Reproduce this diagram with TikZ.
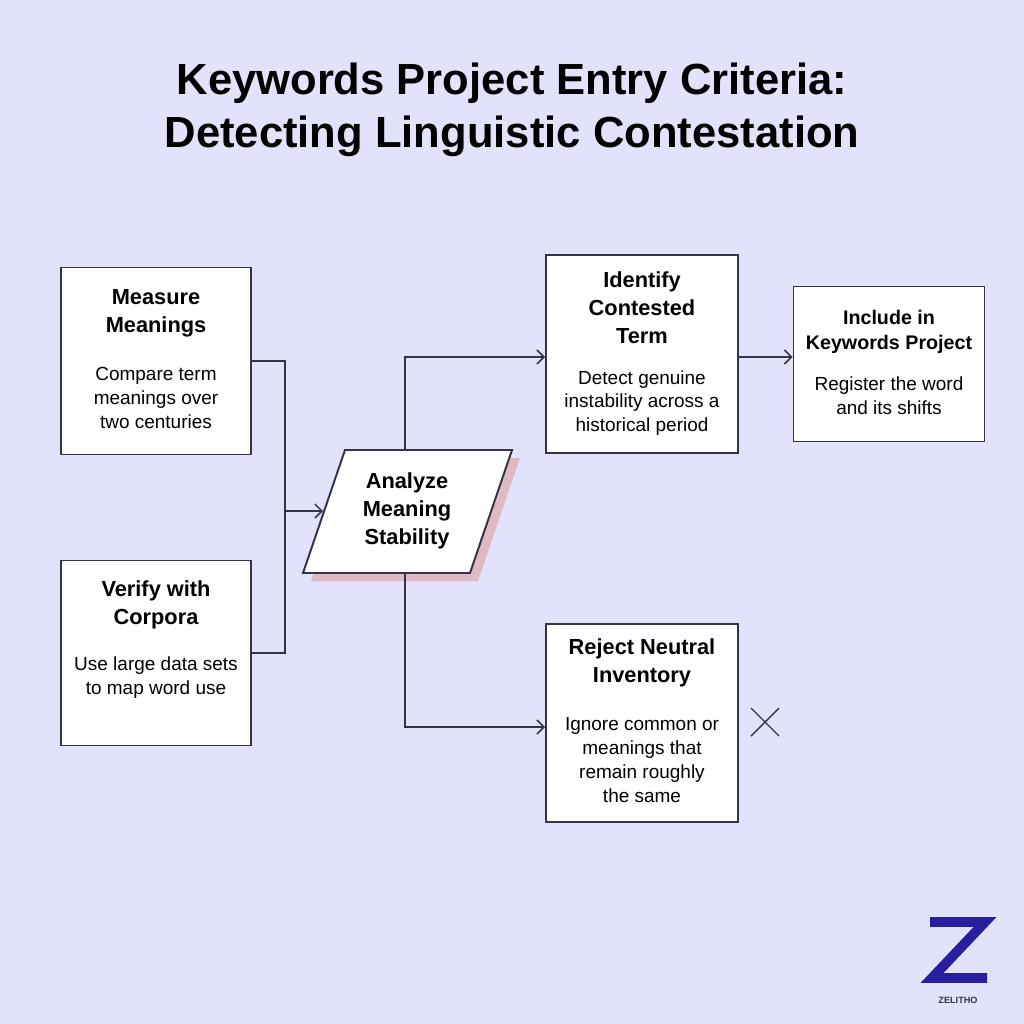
\documentclass[tikz,border=0pt]{standalone}
\usepackage{fontspec}
\setmainfont{Liberation Sans}
\usetikzlibrary{arrows.meta,positioning,calc}
\definecolor{bgcol}{RGB}{226,226,250}
\definecolor{boxline}{RGB}{52,52,72}
\definecolor{shadowcol}{RGB}{222,186,196}
\definecolor{logoblue}{RGB}{40,30,160}
\tikzset{
  stagebox/.style={draw=boxline, line width=2.8pt, fill=white, inner sep=0pt},
  stghead/.style={align=center, font=\fontsize{31}{40}\selectfont\bfseries},
  stgbody/.style={align=center, font=\fontsize{27}{34}\selectfont},
  line/.style={draw=boxline, line width=2.2pt, -{Straight Barb[length=10pt,width=20pt]}},
  plain/.style={draw=boxline, line width=2.2pt}
}
\begin{document}
\begin{tikzpicture}[x=0.05cm, y=-0.05cm]
  \fill[bgcol] (0,0) rectangle (1024,1024);
  \useasboundingbox (0,0) rectangle (1024,1024);
  % Title
  \node[align=center, font=\fontsize{62}{75}\selectfont\bfseries] (title) at (512,110)
    {Keywords Project Entry Criteria:\\Detecting Linguistic Contestation};
  % Boxes
  \node[stagebox, minimum width=9.5cm, minimum height=9.35cm] (measure) at (156,361) {};
  \node[stghead] at (156,313) {Measure\\Meanings};
  \node[stgbody] at (156,398) {Compare term\\meanings over\\two centuries};
  \node[stagebox, minimum width=9.5cm, minimum height=9.25cm] (verify) at (156,653) {};
  \node[stghead] at (156,605) {Verify with\\Corpora};
  \node[stgbody] at (156,678) {Use large data sets\\to map word use};
  \node[stagebox, minimum width=9.6cm, minimum height=9.9cm] (identify) at (642,354) {};
  \node[stghead] at (642,308) {Identify\\Contested\\Term};
  \node[stgbody] at (642,403) {Detect genuine\\instability across a\\historical period};
  \node[stagebox, minimum width=9.55cm, minimum height=7.75cm] (include) at (889,364) {};
  \node[stghead, font=\fontsize{28}{36}\selectfont\bfseries] at (889,332) {Include in\\Keywords Project};
  \node[stgbody] at (889,396) {Register the word\\and its shifts};
  \node[stagebox, minimum width=9.6cm, minimum height=9.9cm] (reject) at (642,723) {};
  \node[stghead] at (642,663) {Reject Neutral\\Inventory};
  \node[stgbody] at (642,760) {Ignore common or\\meanings that\\remain roughly\\the same};
  % Decision parallelogram
  \fill[shadowcol] (353,458) -- (520,458) -- (478,581) -- (311,581) -- cycle;
  \filldraw[fill=white, draw=boxline, line width=2.8pt] (345,450) -- (512,450) -- (470,573) -- (303,573) -- cycle;
  \node[stghead] (analyze) at (407,511) {Analyze\\Meaning\\Stability};
  \coordinate (atop) at (405,450);
  \coordinate (abot) at (405,573);
  \coordinate (aleft) at (323,511);
  \coordinate (join) at (285,511);
  % Paths
  \path[plain] (measure.east) -- (measure.east -| join) -- (join);
  \path[plain] (verify.east) -- (verify.east -| join) -- (join);
  \path[line] (join) -- (aleft);
  \path[line] (atop) |- (identify.west |- 0,357);
  \path[line] (abot) |- (reject.west |- 0,727);
  \path[line] (identify.east |- 0,357) -- (include.west |- 0,357);
  % Rejection mark
  \draw[boxline, line width=2pt] (751,708) -- (779,736) (751,736) -- (779,708);
  % Logo
  \draw[logoblue, line width=14pt, line join=miter] (930,922) -- (985,922) -- (932,978) -- (987,978);
  \node[font=\fontsize{13}{15}\selectfont\bfseries, text=boxline] (logo) at (958,1000) {ZELITHO};
\end{tikzpicture}
\end{document}
